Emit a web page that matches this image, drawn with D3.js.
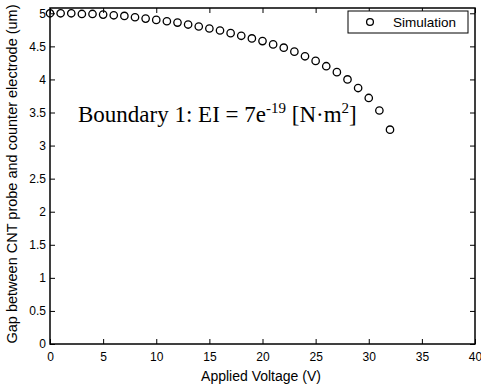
<!DOCTYPE html>
<html>
<head>
<meta charset="utf-8">
<script src="https://cdn.jsdelivr.net/npm/d3@7"></script>
<style>
  body { margin: 0; background: #fff; }
  svg { display: block; }
  .tick text { font-family: "Liberation Sans", Arial, sans-serif; font-size: 12px; fill: #000; }
</style>
</head>
<body>
<div id="chart"></div>
<script>
// applied voltage (V) and simulated gap (um)
const voltage = [0, 1, 2, 3, 4, 5, 6, 7, 8, 9, 10, 11, 12, 13, 14, 15, 16,
  17, 18, 19, 20, 21, 22, 23, 24, 25, 26, 27, 28, 29, 30, 31, 32];
const gap = [5.00, 5.00, 5.00, 4.99, 4.99, 4.98, 4.97, 4.96, 4.94, 4.92, 4.90,
  4.88, 4.86, 4.83, 4.80, 4.77, 4.74, 4.70, 4.66, 4.62, 4.58, 4.53, 4.48,
  4.42, 4.35, 4.28, 4.20, 4.11, 4.00, 3.87, 3.72, 3.53, 3.24];
const xTicks = [0, 5, 10, 15, 20, 25, 30, 35, 40];
const yTicks = [0, 0.5, 1, 1.5, 2, 2.5, 3, 3.5, 4, 4.5, 5];
const seriesName = "Simulation";

const width = 481, height = 386;
const margin = { top: 8, right: 6, bottom: 42, left: 50 };
const innerW = width - margin.left - margin.right;
const innerH = height - margin.top - margin.bottom;

const svg = d3.select("#chart").append("svg")
  .attr("width", width)
  .attr("height", height);

const g = svg.append("g")
  .attr("transform", `translate(${margin.left},${margin.top})`);

const x = d3.scaleLinear().domain([0, 40]).range([0, innerW]);
const y = d3.scaleLinear().domain([0, 5.08]).range([innerH, 0]);

// axes, MATLAB style: ticks pointing inward on all four sides
const fmt = d => String(d);
const tickLen = 5;

g.append("g")
  .attr("transform", `translate(0,${innerH})`)
  .call(d3.axisBottom(x).tickValues(xTicks).tickFormat(fmt).tickSizeInner(-tickLen).tickSizeOuter(0).tickPadding(8));

g.append("g")
  .call(d3.axisTop(x).tickValues(xTicks).tickFormat("").tickSizeInner(-tickLen).tickSizeOuter(0));

g.append("g")
  .call(d3.axisLeft(y).tickValues(yTicks).tickFormat(fmt).tickSizeInner(-tickLen).tickSizeOuter(0).tickPadding(4));

g.append("g")
  .attr("transform", `translate(${innerW},0)`)
  .call(d3.axisRight(y).tickValues(yTicks).tickFormat("").tickSizeInner(-tickLen).tickSizeOuter(0));

g.selectAll(".domain").remove();
g.selectAll(".tick line").attr("stroke", "#000").attr("stroke-width", 1);

// box frame
g.append("rect")
  .attr("width", innerW)
  .attr("height", innerH)
  .attr("fill", "none")
  .attr("stroke", "#000")
  .attr("stroke-width", 1.5);

// data points
g.selectAll("circle.pt")
  .data(voltage.map((v, i) => [v, gap[i]]))
  .join("circle")
  .attr("class", "pt")
  .attr("cx", d => x(d[0]))
  .attr("cy", d => y(d[1]))
  .attr("r", 3.7)
  .attr("fill", "none")
  .attr("stroke", "#000")
  .attr("stroke-width", 1.3);

// legend
const legend = g.append("g").attr("transform", `translate(${innerW - 127},3)`);
legend.append("rect")
  .attr("width", 120)
  .attr("height", 22)
  .attr("fill", "#fff")
  .attr("stroke", "#000")
  .attr("stroke-width", 1);
legend.append("circle")
  .attr("cx", 22)
  .attr("cy", 11)
  .attr("r", 3.4)
  .attr("fill", "none")
  .attr("stroke", "#000")
  .attr("stroke-width", 1.3);
legend.append("text")
  .attr("x", 45)
  .attr("y", 15.5)
  .style("font-family", "Liberation Sans, Arial, sans-serif")
  .style("font-size", "13.5px")
  .text(seriesName);

// annotation
const note = g.append("text")
  .attr("x", 28)
  .attr("y", 114)
  .style("font-family", "Liberation Serif, Times New Roman, serif")
  .style("font-size", "23px");
note.append("tspan").text("Boundary 1: EI = 7e");
note.append("tspan").attr("dy", -9).style("font-size", "15px").text("-19");
note.append("tspan").attr("dy", 9).text(" [N·m");
note.append("tspan").attr("dy", -9).style("font-size", "15px").text("2");
note.append("tspan").attr("dy", 9).text("]");

// axis labels
svg.append("text")
  .attr("x", 261)
  .attr("y", 381)
  .attr("text-anchor", "middle")
  .style("font-family", "Liberation Sans, Arial, sans-serif")
  .style("font-size", "14px")
  .text("Applied Voltage (V)");

svg.append("text")
  .attr("transform", `translate(17,174) rotate(-90)`)
  .attr("text-anchor", "middle")
  .style("font-family", "Liberation Sans, Arial, sans-serif")
  .style("font-size", "14.5px")
  .text("Gap between CNT probe and counter electrode (um)");
</script>
</body>
</html>
